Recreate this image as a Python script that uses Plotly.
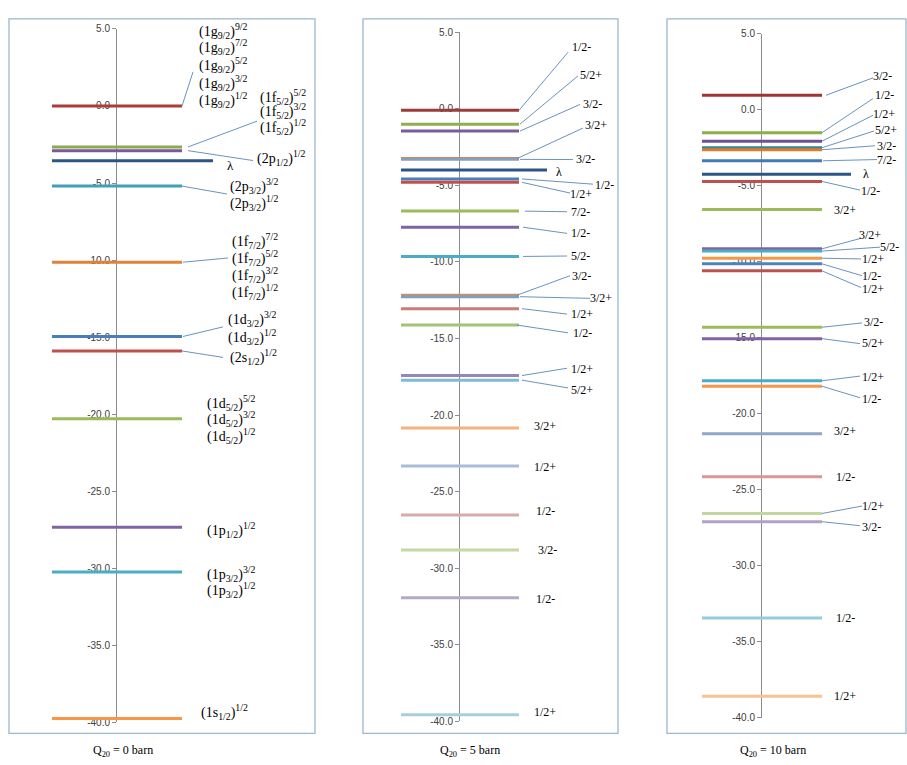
import plotly.graph_objects as go

W, H = 907, 765

# ---------------------------------------------------------------------------
# Single-particle levels (MeV) for three quadrupole deformations
# ---------------------------------------------------------------------------
q0_energy = [0.0, -2.66, -2.90, -5.20, -10.14, -14.96, -15.90, -20.30, -27.35, -30.25, -39.75]
q0_lambda = -3.55
q0_labels = [
    ["(1g<sub>9/2</sub>)<sup>9/2</sup>", "(1g<sub>9/2</sub>)<sup>7/2</sup>", "(1g<sub>9/2</sub>)<sup>5/2</sup>",
     "(1g<sub>9/2</sub>)<sup>3/2</sup>", "(1g<sub>9/2</sub>)<sup>1/2</sup>"],
    ["(1f<sub>5/2</sub>)<sup>5/2</sup>", "(1f<sub>5/2</sub>)<sup>3/2</sup>", "(1f<sub>5/2</sub>)<sup>1/2</sup>"],
    ["(2p<sub>1/2</sub>)<sup>1/2</sup>"],
    ["(2p<sub>3/2</sub>)<sup>3/2</sup>", "(2p<sub>3/2</sub>)<sup>1/2</sup>"],
    ["(1f<sub>7/2</sub>)<sup>7/2</sup>", "(1f<sub>7/2</sub>)<sup>5/2</sup>", "(1f<sub>7/2</sub>)<sup>3/2</sup>",
     "(1f<sub>7/2</sub>)<sup>1/2</sup>"],
    ["(1d<sub>3/2</sub>)<sup>3/2</sup>", "(1d<sub>3/2</sub>)<sup>1/2</sup>"],
    ["(2s<sub>1/2</sub>)<sup>1/2</sup>"],
    ["(1d<sub>5/2</sub>)<sup>5/2</sup>", "(1d<sub>5/2</sub>)<sup>3/2</sup>", "(1d<sub>5/2</sub>)<sup>1/2</sup>"],
    ["(1p<sub>1/2</sub>)<sup>1/2</sup>"],
    ["(1p<sub>3/2</sub>)<sup>3/2</sup>", "(1p<sub>3/2</sub>)<sup>1/2</sup>"],
    ["(1s<sub>1/2</sub>)<sup>1/2</sup>"],
]

q5_energy = [-0.10, -1.00, -1.45, -3.25, -3.30, -4.58, -4.80, -6.68, -7.73, -9.64, -12.17, -12.27,
             -13.05, -14.12, -17.42, -17.72, -20.85, -23.33, -26.53, -28.82, -31.93, -39.58]
q5_lambda = -4.00
q5_labels = ["1/2-", "5/2+", "3/2-", "3/2+", "3/2-", "1/2-", "1/2+", "7/2-", "1/2-", "5/2-", "3/2-", "3/2+",
             "1/2+", "1/2-", "1/2+", "5/2+", "3/2+", "1/2+", "1/2-", "3/2-", "1/2-", "1/2+"]

q10_energy = [0.96, -1.50, -2.06, -2.49, -2.62, -3.35, -4.71, -6.55, -9.14, -9.29, -9.76, -10.13, -10.59,
              -14.30, -15.05, -17.82, -18.18, -21.31, -24.14, -26.55, -27.09, -33.42, -38.58]
q10_lambda = -4.24
q10_labels = ["3/2-", "1/2-", "1/2+", "5/2+", "3/2-", "7/2-", "1/2-", "3/2+", "3/2+", "5/2-", "1/2+", "1/2-",
              "1/2+", "3/2-", "5/2+", "1/2+", "1/2-", "3/2+", "1/2-", "1/2+", "3/2-", "1/2-", "1/2+"]

captions = ["Q<sub>20</sub> = 0 barn", "Q<sub>20</sub> = 5 barn", "Q<sub>20</sub> = 10 barn"]
tick_vals = [5, 0, -5, -10, -15, -20, -25, -30, -35, -40]
tick_text = ["5.0", "0.0", "-5.0", "-10.0", "-15.0", "-20.0", "-25.0", "-30.0", "-35.0", "-40.0"]

# ---------------------------------------------------------------------------
# Styling
# ---------------------------------------------------------------------------
q0_colors = ["#A93C39", "#8CAA52", "#7B5A9C", "#3FA0B8", "#E0823A", "#4A7DBA",
             "#C0504D", "#9BBB59", "#8064A2", "#4BACC6", "#F79646"]
q5_colors = ["#9E3B38", "#8FB050", "#7A5C9E", "#C48A4E", "#8D9CB8", "#4A7DBA", "#C0504D",
             "#9BBB59", "#8064A2", "#4BACC6", "#C99359", "#7F9CC3", "#C97C79", "#A6C27A",
             "#9A85B8", "#7DBDD2", "#F5B27E", "#A9BDD8", "#D6ABA8", "#C5D8A6", "#B5A9CB", "#A6CFDD"]
q10_colors = ["#A0322F", "#8BAE4E", "#6F4F95", "#31859C", "#E07B29", "#4679B5", "#C0504D",
              "#9BBB59", "#8064A2", "#4BACC6", "#F79646", "#4F81BD", "#C0504D", "#9BBB59",
              "#8064A2", "#4BACC6", "#F79646", "#8EA5C8", "#D99694", "#C3D69B", "#B3A2C7",
              "#93CDDD", "#FAC090"]
lambda_color = "#2C5587"
leader_color = "#6A93BE"
box_color = "#9CB8CC"
serif = "Liberation Serif"

# Panel geometry in page pixels: frame box, axis column, rows of the 5.0 / -40.0 ticks,
# level-bar extent and lambda-bar end (offsets from the axis column).
panels = [
    dict(box=(9, 13, 315, 739), axis=116, top=23.3, bottom=727.7, bar=(-64, 66), lam=97,
         cap=(123, 757)),
    dict(box=(363, 13, 618, 739), axis=459, top=26.7, bottom=726.7, bar=(-58, 60), lam=88,
         cap=(470, 757)),
    dict(box=(667, 13, 906, 739), axis=761, top=28.3, bottom=723.3, bar=(-59, 61), lam=90,
         cap=(773, 757)),
]

# Manual label placement: (text x offset, rows, leader (start x, end x, end row) or None)
q0_place = [
    (81, [25, 42, 60, 78, 95], (66, 77, 67)),
    (142, [92, 107, 123], (72, 141, 117)),
    (139, [154], (72, 137, 157)),
    (112, [183, 200], (66, 111, 191)),
    (114, [239, 256, 273, 291], (67, 112, 256)),
    (110, [318, 336], (67, 107, 326)),
    (112, [357], (66, 107, 357)),
    (89, [403, 420, 437], None),
    (89, [532], None),
    (89, [577, 593], None),
    (83, [717], None),
]
q0_lam_place = (114, 162)

q5_place = [
    (122, 42, (60, 109, 47)), (132, 70, (61, 119, 71)), (133, 100, (61, 121, 100)),
    (137, 121, (58, 124, 124)), (126, 155, (61, 114, 156)), (145, 182, (63, 134, 181)),
    (122, 191, (63, 111, 190)), (121, 209, (66, 108, 209)), (121, 231, (64, 108, 231)),
    (121, 254, (64, 108, 254)), (122, 274, (58, 111, 274)), (142, 297, (61, 131, 297)),
    (123, 313, (63, 108, 313)), (123, 332, (58, 109, 332)), (123, 369, (63, 108, 368)),
    (123, 390, (63, 109, 388)), (86, 427, None), (86, 468, None), (86, 513, None),
    (88, 553, None), (86, 602, None), (86, 717, None),
]
q5_lam_place = (100, 169)

q10_place = [
    (121, 71, (65, 112, 73)), (123, 90, (61, 112, 94)), (123, 110, (61, 112, 111)),
    (125, 126, (61, 113, 127)), (125, 142, (61, 114, 142)), (125, 156, (62, 116, 156)),
    (109, 188, (61, 99, 187)), (84, 207, None), (109, 233, (61, 100, 236)),
    (128, 245, (61, 119, 245)), (112, 257, (61, 100, 257)), (110, 274, (61, 101, 274)),
    (112, 288, (61, 100, 286)), (112, 321, (61, 101, 322)), (112, 342, (61, 99, 343)),
    (112, 377, (61, 99, 376)), (110, 399, (61, 99, 398)), (84, 432, None), (84, 478, None),
    (112, 508, (61, 101, 508)), (110, 529, (61, 99, 528)), (84, 622, None), (84, 701, None),
]
q10_lam_place = (105, 171)

series = [
    (q0_energy, q0_lambda, q0_colors),
    (q5_energy, q5_lambda, q5_colors),
    (q10_energy, q10_lambda, q10_colors),
]

fig = go.Figure()
shapes = []
annotations = []


def row_to_energy(p, row):
    return 5 - (row - p["top"]) * 45.0 / (p["bottom"] - p["top"])


for i, (p, (energies, lam, colors)) in enumerate(zip(panels, series)):
    n = "" if i == 0 else str(i + 1)
    xa, ya = "x" + n, "y" + n
    bl, bt, br, bb = p["box"]
    x0, x1 = p["bar"]

    # energy levels
    for e, c in zip(energies, colors):
        fig.add_trace(go.Scatter(x=[x0, x1], y=[e, e], mode="lines", xaxis=xa, yaxis=ya,
                                 line=dict(color=c, width=3), showlegend=False, hoverinfo="skip"))
    # Fermi level
    fig.add_trace(go.Scatter(x=[x0, p["lam"]], y=[lam, lam], mode="lines", xaxis=xa, yaxis=ya,
                             line=dict(color=lambda_color, width=3), showlegend=False,
                             hoverinfo="skip"))

    # axes
    fig.layout["xaxis" + n] = dict(domain=[bl / W, br / W], range=[bl - p["axis"], br - p["axis"]],
                                   visible=False, fixedrange=True)
    fig.layout["yaxis" + n] = dict(
        domain=[1 - p["bottom"] / H, 1 - p["top"] / H], range=[-40, 5], anchor="free",
        position=p["axis"] / W, showgrid=False, zeroline=False, showline=True,
        linecolor="#8C8C8C", linewidth=1, ticks="outside", ticklen=4, tickcolor="#8C8C8C",
        tickvals=tick_vals, ticktext=tick_text, layer="below traces",
        tickfont=dict(family="Liberation Sans", size=10, color="#404040"), fixedrange=True)

    # frame
    shapes.append(dict(type="rect", xref="paper", yref="paper", x0=bl / W, x1=br / W,
                       y0=1 - bb / H, y1=1 - bt / H, line=dict(color=box_color, width=1.3)))
    # caption
    cx, cy = p["cap"]
    annotations.append(dict(text=captions[i], xref="paper", yref="paper", x=cx / W, y=1 - cy / H,
                            xanchor="center", yanchor="middle", showarrow=False,
                            font=dict(family=serif, size=12, color="#000000")))

# ---- level labels ----
def add_leader(i, p, e, leader):
    n = "" if i == 0 else str(i + 1)
    sx, ex, er = leader
    shapes.append(dict(type="line", xref="x" + n, yref="y" + n, x0=sx, y0=e, x1=ex,
                       y1=row_to_energy(p, er), line=dict(color=leader_color, width=1)))


# Q20 = 0: stacked orbital labels, left aligned
p = panels[0]
for e, texts, (tx, rows, leader) in zip(q0_energy, q0_labels, q0_place):
    for t, r in zip(texts, rows):
        annotations.append(dict(text=t, xref="x", yref="y", x=tx, y=row_to_energy(p, r),
                                xanchor="left", yanchor="middle", showarrow=False,
                                font=dict(family=serif, size=14, color="#000000")))
    if leader:
        add_leader(0, p, e, leader)
annotations.append(dict(text="λ", xref="x", yref="y", x=q0_lam_place[0],
                        y=row_to_energy(p, q0_lam_place[1]), xanchor="center", yanchor="middle",
                        showarrow=False, font=dict(family=serif, size=13, color="#000000")))

# Q20 = 5 and 10: K^pi labels
for i, labels, places, lam_place in [(1, q5_labels, q5_place, q5_lam_place),
                                     (2, q10_labels, q10_place, q10_lam_place)]:
    p = panels[i]
    n = str(i + 1)
    energies = series[i][0]
    for e, t, (tx, r, leader) in zip(energies, labels, places):
        annotations.append(dict(text=t, xref="x" + n, yref="y" + n, x=tx, y=row_to_energy(p, r),
                                xanchor="center", yanchor="middle", showarrow=False,
                                font=dict(family=serif, size=12, color="#000000")))
        if leader:
            add_leader(i, p, e, leader)
    annotations.append(dict(text="λ", xref="x" + n, yref="y" + n, x=lam_place[0],
                            y=row_to_energy(p, lam_place[1]), xanchor="center", yanchor="middle",
                            showarrow=False, font=dict(family=serif, size=12, color="#000000")))

fig.update_layout(width=W, height=H, margin=dict(l=0, r=0, t=0, b=0), paper_bgcolor="white",
                  plot_bgcolor="rgba(0,0,0,0)", shapes=shapes, annotations=annotations,
                  showlegend=False)
fig.write_html("out.html", config=dict(displayModeBar=False))
